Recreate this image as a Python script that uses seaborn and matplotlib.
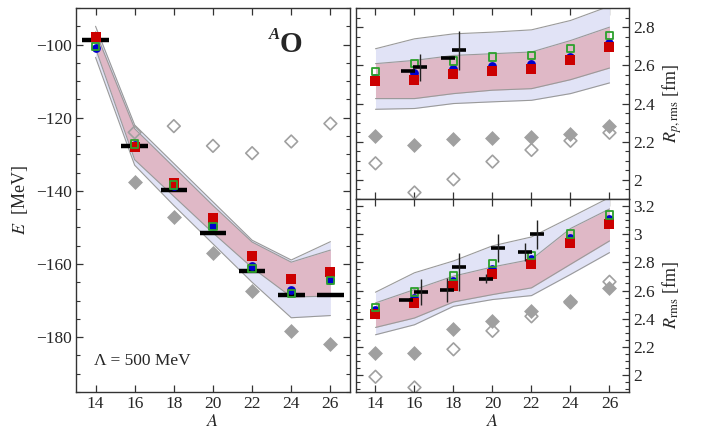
import numpy as np
import pandas as pd
import matplotlib
matplotlib.use('Agg')
import matplotlib.pyplot as plt
import seaborn as sns
from matplotlib.ticker import MultipleLocator, FuncFormatter

# ---------------- data ----------------
A = [14, 16, 18, 20, 22, 24, 26]

# ground-state energies [MeV]
E_exp = [-98.7, -127.6, -139.7, -151.5, -162.0, -168.5, -168.5]
E_red = [-97.9, -127.9, -137.8, -147.5, -157.7, -164.0, -162.1]
E_blue = [-100.9, -127.5, -138.6, -149.5, -160.5, -167.1, -164.3]
E_green = [-100.5, -127.2, -138.4, -149.7, -161.2, -168.0, -164.5]
E_dia_A = [16, 18, 20, 22, 24, 26]
E_dia_filled = [-137.5, -147.1, -157.0, -167.5, -178.4, -182.0]
E_dia_open = [-124.0, -122.3, -127.7, -129.7, -126.5, -121.6]
E_outer_lo = [-103.5, -133.0, -144.0, -154.5, -165.0, -174.7, -174.1]
E_outer_hi = [-95.0, -122.0, -132.5, -143.0, -153.5, -158.9, -153.9]
E_inner_lo = [-101.0, -131.5, -141.5, -151.5, -161.0, -169.0, -168.8]
E_inner_hi = [-96.5, -123.0, -133.5, -144.0, -154.0, -159.5, -156.2]

# proton rms radii [fm]
Rp_red = [2.517, 2.525, 2.553, 2.570, 2.583, 2.626, 2.696]
Rp_blue = [2.536, 2.560, 2.583, 2.595, 2.605, 2.643, 2.717]
Rp_green = [2.569, 2.609, 2.623, 2.643, 2.652, 2.690, 2.757]
Rp_dia_filled = [2.230, 2.183, 2.214, 2.221, 2.226, 2.243, 2.282]
Rp_dia_open = [2.087, 1.934, 2.003, 2.096, 2.157, 2.205, 2.247]
Rp_outer_lo = [2.370, 2.374, 2.400, 2.409, 2.417, 2.452, 2.508]
Rp_outer_hi = [2.687, 2.739, 2.765, 2.774, 2.786, 2.835, 2.910]
Rp_inner_lo = [2.426, 2.426, 2.452, 2.470, 2.478, 2.525, 2.586]
Rp_inner_hi = [2.609, 2.626, 2.652, 2.661, 2.670, 2.730, 2.800]
Rp_exp_A = [15.65, 16.27, 17.70, 18.30]
Rp_exp = [2.569, 2.591, 2.638, 2.682]
Rp_exp_lo = [np.nan, 2.518, np.nan, 2.577]
Rp_exp_hi = [np.nan, 2.661, np.nan, 2.780]

# matter rms radii [fm]
R_red = [2.433, 2.512, 2.631, 2.719, 2.786, 2.940, 3.071]
R_blue = [2.464, 2.548, 2.667, 2.750, 2.821, 2.971, 3.107]
R_green = [2.481, 2.590, 2.702, 2.790, 2.850, 3.000, 3.136]
R_dia_filled = [2.160, 2.160, 2.326, 2.381, 2.452, 2.524, 2.619]
R_dia_open = [1.988, 1.912, 2.183, 2.314, 2.417, 2.515, 2.662]
R_outer_lo = [2.286, 2.357, 2.488, 2.536, 2.564, 2.714, 2.869]
R_outer_hi = [2.588, 2.726, 2.810, 2.917, 2.980, 3.119, 3.260]
R_inner_lo = [2.338, 2.405, 2.519, 2.571, 2.619, 2.786, 2.952]
R_inner_hi = [2.512, 2.607, 2.702, 2.767, 2.821, 3.040, 3.179]
R_exp_A = [15.55, 16.35, 17.65, 18.30, 19.68, 20.30, 21.68, 22.30]
R_exp = [2.531, 2.593, 2.602, 2.767, 2.681, 2.900, 2.876, 3.000]
R_exp_lo = [np.nan, 2.500, 2.519, 2.595, 2.650, 2.800, 2.810, 2.893]
R_exp_hi = [np.nan, 2.679, 2.690, 2.869, 2.720, 3.000, 2.940, 3.100]

# ---------------- style ----------------
sns.set_theme(style='ticks')
plt.rcParams['font.family'] = ['Liberation Serif', 'DejaVu Serif']
plt.rcParams['mathtext.fontset'] = 'stix'
plt.rcParams['axes.unicode_minus'] = True

RED = '#cc0000'
BLUE = '#0000cc'
GREEN = '#2ca02c'
GREY = '#a0a0a0'
OUTER = '#e1e3f6'
INNER = '#dfb8c6'
EDGE = '#9a9a9a'

fig = plt.figure(figsize=(7.08, 4.30), dpi=100)
axL = fig.add_axes([0.1073, 0.0884, 0.387, 0.893])
axT = fig.add_axes([0.5028, 0.5372, 0.3856, 0.444])
axB = fig.add_axes([0.5028, 0.0884, 0.3856, 0.449])


def bands(ax, olo, ohi, ilo, ihi):
    ax.fill_between(A, olo, ohi, color=OUTER, lw=0, zorder=1)
    ax.fill_between(A, ilo, ihi, color=INNER, lw=0, zorder=1.2)
    for arr in (olo, ohi, ilo, ihi):
        sns.lineplot(x=A, y=arr, ax=ax, color=EDGE, lw=0.8, zorder=1.5)


def points(ax, xs, red, blue, green, dfill, dopen, dx=None):
    dx = A if dx is None else dx
    sns.scatterplot(x=dx, y=dopen, ax=ax, marker='D', s=42, facecolor='none',
                    edgecolor=GREY, linewidth=1.2, zorder=2)
    sns.scatterplot(x=dx, y=dfill, ax=ax, marker='D', s=58, color=GREY,
                    edgecolor=GREY, linewidth=0, zorder=2.1)
    sns.scatterplot(x=xs, y=blue, ax=ax, marker='o', s=40, color=BLUE,
                    linewidth=0, zorder=4)
    sns.scatterplot(x=xs, y=red, ax=ax, marker='s', s=58, color=RED,
                    linewidth=0, zorder=5)
    sns.scatterplot(x=xs, y=green, ax=ax, marker='s', s=28, facecolor='none',
                    edgecolor=GREEN, linewidth=1.3, zorder=6)


# ---------------- left: energies ----------------
bands(axL, E_outer_lo, E_outer_hi, E_inner_lo, E_inner_hi)
points(axL, A, E_red, E_blue, E_green, E_dia_filled, E_dia_open, dx=E_dia_A)
axL.hlines(E_exp, np.array(A) - 0.68, np.array(A) + 0.68, color='black',
           lw=3.2, zorder=3)
axL.set_xlim(13, 27)
axL.set_ylim(-195, -90)
axL.yaxis.set_major_locator(MultipleLocator(20))
axL.yaxis.set_minor_locator(MultipleLocator(5))
axL.yaxis.set_major_formatter(FuncFormatter(lambda v, p: f"{v:g}".replace('-', '\u2212')))
axL.set_ylabel(r'$E$  [MeV]', fontsize=13, labelpad=4)
axL.set_xlabel(r'$A$', fontsize=13, labelpad=0.5)
axL.text(0.745, 0.905, 'O', transform=axL.transAxes, fontsize=21,
         fontweight='bold', ha='left', va='center')
axL.text(0.745, 0.93, 'A', transform=axL.transAxes, fontsize=12,
         fontweight='bold', fontstyle='italic', ha='right', va='center')
axL.text(0.065, 0.08, '\u039b = 500 MeV', transform=axL.transAxes,
         fontsize=12.5, ha='left', va='center')

# ---------------- top right: proton radii ----------------
bands(axT, Rp_outer_lo, Rp_outer_hi, Rp_inner_lo, Rp_inner_hi)
points(axT, A, Rp_red, Rp_blue, Rp_green, Rp_dia_filled, Rp_dia_open)
axT.hlines(Rp_exp, np.array(Rp_exp_A) - 0.36, np.array(Rp_exp_A) + 0.36,
           color='black', lw=2.6, zorder=7)
axT.vlines(Rp_exp_A, Rp_exp_lo, Rp_exp_hi, color='#222222', lw=1.0, zorder=7)
axT.set_xlim(13, 27)
axT.set_ylim(1.9, 2.9)
axT.yaxis.set_major_locator(MultipleLocator(0.2))
axT.yaxis.set_minor_locator(MultipleLocator(0.05))
axT.set_ylabel(r'$R_{p,\mathrm{rms}}$ [fm]', fontsize=13)
axT.tick_params(axis='x', labelbottom=False)

# ---------------- bottom right: matter radii ----------------
bands(axB, R_outer_lo, R_outer_hi, R_inner_lo, R_inner_hi)
points(axB, A, R_red, R_blue, R_green, R_dia_filled, R_dia_open)
axB.hlines(R_exp, np.array(R_exp_A) - 0.36, np.array(R_exp_A) + 0.36,
           color='black', lw=2.6, zorder=7)
axB.vlines(R_exp_A, R_exp_lo, R_exp_hi, color='#222222', lw=1.0, zorder=7)
axB.set_xlim(13, 27)
axB.set_ylim(1.88, 3.25)
axB.yaxis.set_major_locator(MultipleLocator(0.2))
axB.yaxis.set_minor_locator(MultipleLocator(0.05))
axB.set_ylabel(r'$R_{\mathrm{rms}}$ [fm]', fontsize=13)
axB.set_xlabel(r'$A$', fontsize=13, labelpad=0.5)

for ax in (axT, axB):
    ax.yaxis.set_label_position('right')
    ax.yaxis.set_major_formatter(FuncFormatter(lambda v, p: f"{round(v, 2):g}"))
    ax.tick_params(axis='y', which='both', labelleft=False, labelright=True)

for ax in (axL, axT, axB):
    ax.set_xticks(A)
    ax.tick_params(which='both', direction='in', top=True, right=True,
                   labelsize=12.5, color='#333333', pad=3)
    ax.tick_params(which='major', length=5, width=0.9)
    ax.tick_params(which='minor', length=3, width=0.8)
    ax.tick_params(axis='x', which='minor', bottom=False, top=False)
    for s in ax.spines.values():
        s.set_color('#333333')
        s.set_linewidth(1.0)
    ax.set_facecolor('white')

fig.savefig('out.png', dpi=100)
